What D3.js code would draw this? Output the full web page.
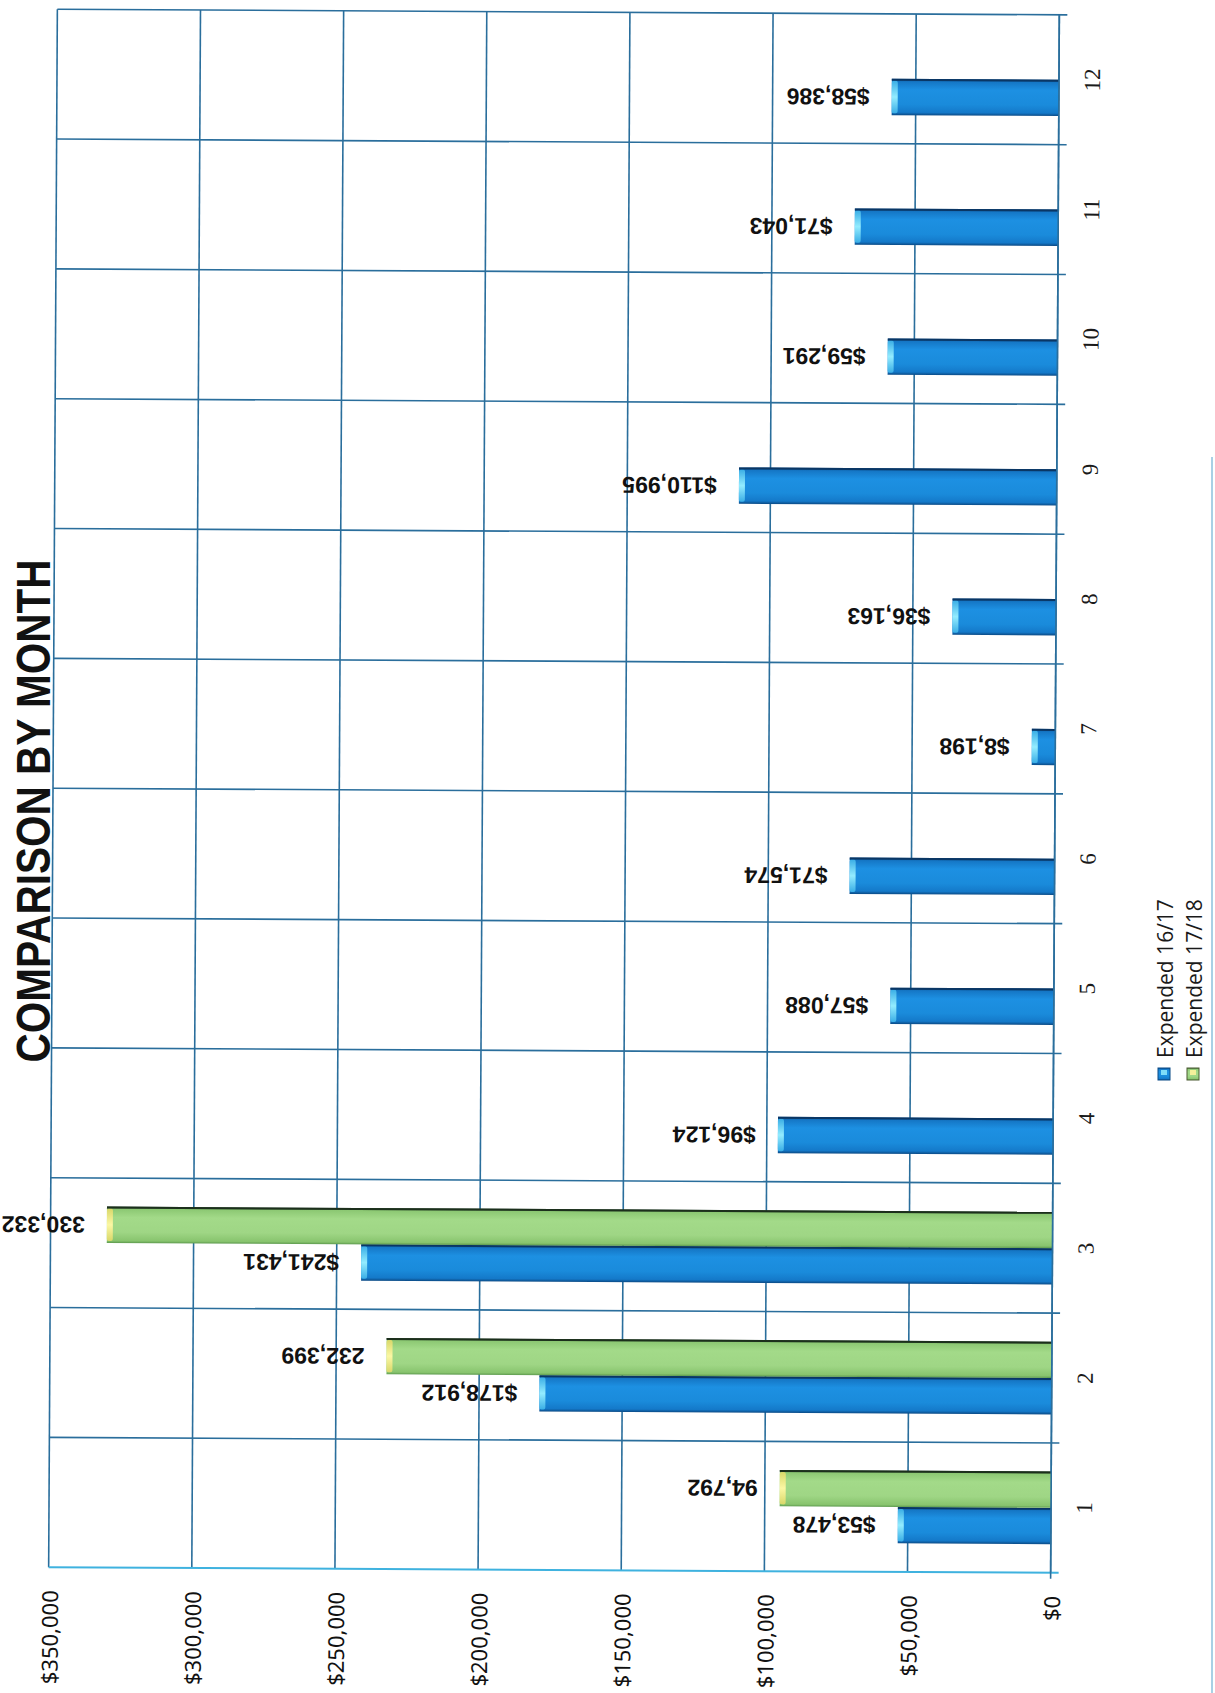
<!DOCTYPE html>
<html>
<head>
<meta charset="utf-8">
<script src="https://cdn.jsdelivr.net/npm/d3@7"></script>
<style>
body { margin: 0; background: #fff; }
</style>
</head>
<body>
<div id="svg"></div>
<script>
var width = 1215;
var height = 1693;

// data
var months = ['1', '2', '3', '4', '5', '6', '7', '8', '9', '10', '11', '12'];
var expended_16_17 = [53478, 178912, 241431, 96124, 57088, 71574, 8198, 36163, 110995, 59291, 71043, 58386];
var expended_17_18 = [94792, 232399, 330332, null, null, null, null, null, null, null, null, null];
var series_names = ['Expended 16/17', 'Expended 17/18'];
var value_ticks = [0, 50000, 100000, 150000, 200000, 250000, 300000, 350000];
var title_text = 'COMPARISON BY MONTH';

var plot = {left: 53, right: 1055, top: 12, bottom: 1570};

var canvas = d3.select('#svg')
	.append('svg')
	.attr('width', width)
	.attr('height', height)
	.style('font-family', '"Open Sans", sans-serif');

function main()
{
	add_gradients();
	render_chart();
	render_title();
	render_legend();
}

function add_gradients()
{
	var defs = canvas.append('defs');
	make_gradient(defs, 'blue_bar', [[0, '#0b4a86'], [0.08, '#1577c6'], [0.3, '#1d90e2'], [0.7, '#1a8bdb'], [0.92, '#1479c9'], [1, '#0b4a85']]);
	make_gradient(defs, 'green_bar', [[0, '#23402a'], [0.07, '#8cc873'], [0.3, '#a3da89'], [0.7, '#9fd685'], [0.94, '#88c46e'], [1, '#5d9a4e']]);
	make_gradient(defs, 'blue_cap', [[0, '#3aaee6'], [0.5, '#93ecff'], [1, '#3aaee6']]);
	make_gradient(defs, 'green_cap', [[0, '#d9d86a'], [0.5, '#fbf7a4'], [1, '#d9d86a']]);
}

function make_gradient(defs, id, stops)
{
	var g = defs.append('linearGradient')
		.attr('id', id)
		.attr('x1', 0).attr('y1', 0)
		.attr('x2', 0).attr('y2', 1);
	g.selectAll('stop')
		.data(stops)
		.enter().append('stop')
			.attr('offset', (d) => d[0])
			.attr('stop-color', (d) => d[1]);
}

function render_chart()
{
	var x = d3.scaleLinear()
		.domain([0, 350000])
		.range([plot.right, plot.left]);

	// month 1 sits at the bottom of the page
	var y = d3.scaleBand()
		.domain(months)
		.range([plot.bottom, plot.top]);

	var sub = d3.scaleBand()
		.domain(['17/18', '16/17'])
		.range([0, y.bandwidth()])
		.paddingInner(0)
		.paddingOuter(0.786)
		.align(0.5);

	// the scan is slightly tilted
	var group = canvas.append('g')
		.attr('transform', 'rotate(0.32,' + (plot.left + plot.right) / 2 + ',' + (plot.top + plot.bottom) / 2 + ')');

	// value gridlines
	group.append('g')
		.selectAll('line')
		.data(value_ticks)
		.enter().append('line')
			.attr('x1', (d) => x(d)).attr('x2', (d) => x(d))
			.attr('y1', plot.top).attr('y2', plot.bottom)
			.attr('stroke', '#2a6e9c')
			.attr('stroke-width', 1.6);

	// category boundaries (with ticks past the axis)
	var bounds = months.map((m) => y(m));
	group.append('g')
		.selectAll('line')
		.data(bounds)
		.enter().append('line')
			.attr('x1', plot.left).attr('x2', plot.right + 8)
			.attr('y1', (d) => d).attr('y2', (d) => d)
			.attr('stroke', '#2a6e9c')
			.attr('stroke-width', 1.6);

	group.append('line')
		.attr('x1', plot.left).attr('x2', plot.right + 8)
		.attr('y1', plot.bottom).attr('y2', plot.bottom)
		.attr('stroke', '#3fb2df')
		.attr('stroke-width', 2);

	// bars
	var bar_data = [];
	months.forEach((m, i) => {
		bar_data.push({month: m, key: '16/17', value: expended_16_17[i], fill: 'blue', label: d3.format('$,')(expended_16_17[i])});
		if(expended_17_18[i] != null)
			bar_data.push({month: m, key: '17/18', value: expended_17_18[i], fill: 'green', label: d3.format(',')(expended_17_18[i])});
	});

	var bars = group.selectAll('.bar')
		.data(bar_data)
		.enter().append('g')
			.attr('class', 'bar')
			.attr('transform', (d) => 'translate(0,' + (y(d.month) + sub(d.key)) + ')');

	bars.append('rect')
		.attr('x', (d) => x(d.value))
		.attr('y', 0)
		.attr('width', (d) => x(0) - x(d.value))
		.attr('height', sub.bandwidth())
		.attr('fill', (d) => 'url(#' + d.fill + '_bar)');

	bars.append('rect')
		.attr('x', (d) => x(d.value))
		.attr('y', 2)
		.attr('width', 6)
		.attr('height', sub.bandwidth() - 4)
		.attr('rx', 2)
		.attr('fill', (d) => 'url(#' + d.fill + '_cap)');

	bars.append('line')
		.attr('x1', (d) => x(d.value)).attr('x2', x(0))
		.attr('y1', 1).attr('y2', 1)
		.attr('stroke', (d) => d.fill == 'green' ? '#1c2f1c' : '#0a3664')
		.attr('stroke-width', 2);

	bars.append('text')
		.attr('transform', (d) => 'translate(' + (x(d.value) - 22) + ',' + sub.bandwidth() / 2 + ') rotate(180)')
		.attr('text-anchor', 'start')
		.attr('dominant-baseline', 'central')
		.style('font-family', '"Liberation Sans", Arial, sans-serif')
		.style('font-weight', 'bold')
		.style('font-size', '23px')
		.attr('fill', '#111')
		.text((d) => d.label);

	// right axis line
	group.append('line')
		.attr('x1', x(0)).attr('x2', x(0))
		.attr('y1', plot.top).attr('y2', plot.bottom + 6)
		.attr('stroke', '#2a6e9c')
		.attr('stroke-width', 1.6);

	// category labels
	var cat_axis = group.append('g')
		.attr('transform', 'translate(' + x(0) + ',0)')
		.call(d3.axisRight(y).tickSize(0));
	cat_axis.select('.domain').remove();
	cat_axis.selectAll('text')
		.attr('x', null).attr('dy', null)
		.attr('transform', 'translate(41,0) rotate(-90)')
		.attr('text-anchor', 'middle')
		.style('font-family', '"Liberation Serif", "Times New Roman", serif')
		.style('font-size', '23px')
		.attr('fill', '#1a1a1a');

	// value labels
	var val_axis = group.append('g')
		.attr('transform', 'translate(0,' + plot.bottom + ')')
		.call(d3.axisBottom(x).tickValues(value_ticks).tickFormat(d3.format('$,')).tickSize(0));
	val_axis.select('.domain').remove();
	val_axis.selectAll('text')
		.attr('y', null).attr('dy', null)
		.attr('transform', 'translate(0,23) rotate(-90)')
		.attr('text-anchor', 'end')
		.attr('dominant-baseline', 'central')
		.style('font-family', '"Noto Sans", "Open Sans", sans-serif')
		.style('font-size', '22px')
		.attr('fill', '#111');
}

function render_title()
{
	canvas.append('text')
		.attr('transform', 'translate(50,811) rotate(-90)')
		.attr('text-anchor', 'middle')
		.attr('textLength', 503)
		.attr('lengthAdjust', 'spacingAndGlyphs')
		.style('font-family', '"Liberation Sans", Arial, sans-serif')
		.style('font-weight', 'bold')
		.style('font-size', '49px')
		.attr('fill', '#111')
		.text(title_text);
}

function render_legend()
{
	var items = [
		{name: series_names[0], fill: 'blue', x: 1173},
		{name: series_names[1], fill: 'green', x: 1202}
	];

	var legend = canvas.append('g');
	var item = legend.selectAll('.item')
		.data(items)
		.enter().append('g')
			.attr('class', 'item');

	item.append('rect')
		.attr('x', (d) => d.x - 15)
		.attr('y', 1068)
		.attr('width', 12)
		.attr('height', 12)
		.attr('fill', (d) => 'url(#' + d.fill + '_bar)')
		.attr('stroke', (d) => d.fill == 'green' ? '#4a5a30' : '#0b4a86')
		.attr('stroke-width', 1);

	item.append('rect')
		.attr('x', (d) => d.x - 12)
		.attr('y', 1070)
		.attr('width', 6)
		.attr('height', 5)
		.attr('fill', (d) => d.fill == 'green' ? '#f4f09a' : '#7fdcf8');

	item.append('text')
		.attr('transform', (d) => 'translate(' + d.x + ',1058) rotate(-90)')
		.attr('text-anchor', 'start')
		.style('font-size', '21px')
		.attr('fill', '#1a1a1a')
		.text((d) => d.name);

	// edge of the scanned page
	canvas.append('line')
		.attr('x1', 1212).attr('x2', 1212)
		.attr('y1', 457).attr('y2', height)
		.attr('stroke', '#8cc0dc')
		.attr('stroke-width', 1.5);
}

main();
</script>
</body>
</html>
